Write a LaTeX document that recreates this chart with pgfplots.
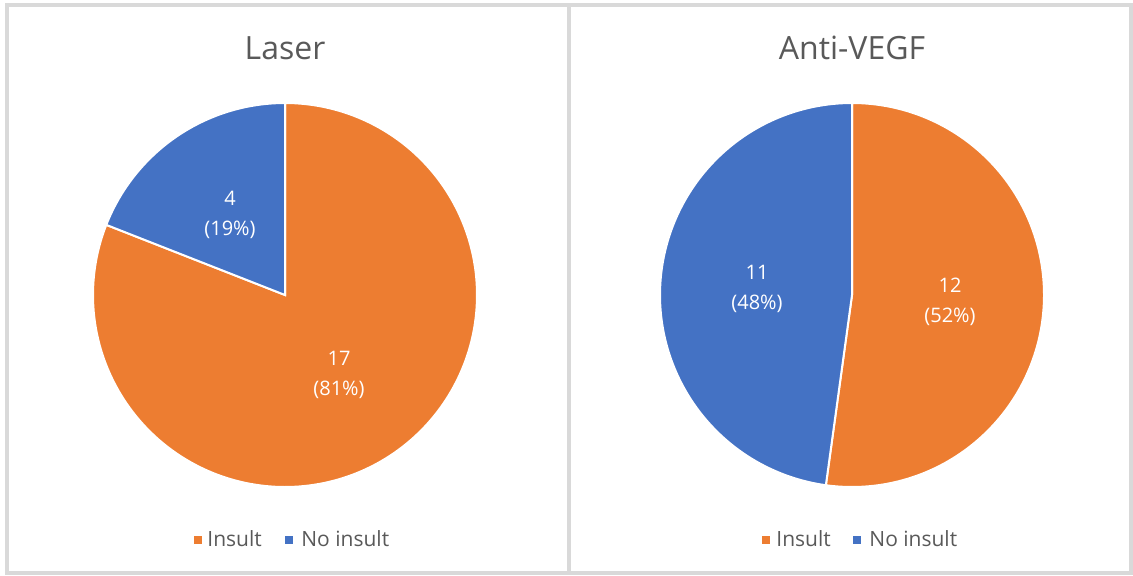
\documentclass[border=0pt]{standalone}
\usepackage{pgfplots}
\pgfplotsset{compat=1.18}
\usepackage{fontspec}
\setmainfont{Open Sans}
\definecolor{pieorange}{HTML}{ED7D31}
\definecolor{pieblue}{HTML}{4472C4}
\definecolor{txtgray}{HTML}{595959}
\definecolor{framegray}{HTML}{D9D9D9}
% data
\def\laserIns{17}
\def\laserNo{4}
\def\vegfIns{12}
\def\vegfNo{11}
\pgfmathsetmacro\aL{90-360*\laserIns/(\laserIns+\laserNo)}
\pgfmathsetmacro\aV{90-360*\vegfIns/(\vegfIns+\vegfNo)}
\pgfmathsetmacro\aLb{\aL+360}
\pgfmathsetmacro\aVb{\aV+360}
\begin{document}
\begin{tikzpicture}
\begin{axis}[hide axis, scale only axis, width=566.5pt, height=287.5pt,
  xmin=0, xmax=1133, ymin=-575, ymax=0, clip=false]
% frames
\draw[framegray, line width=2pt] (7,-5) rectangle (1131,-573);
\draw[framegray, line width=2pt] (568.7,-5) -- (568.7,-573);
% Laser pie
\addplot[fill=pieorange, draw=white, line width=1pt, domain=\aL:90, samples=200]
  ({285+192*cos(x)},{-295+192*sin(x)}) -- (285,-295) -- cycle;
\addplot[fill=pieblue, draw=white, line width=1pt, domain=90:\aLb, samples=80]
  ({285+192*cos(x)},{-295+192*sin(x)}) -- (285,-295) -- cycle;
% Anti-VEGF pie
\addplot[fill=pieorange, draw=white, line width=1pt, domain=\aV:90, samples=200]
  ({852+192*cos(x)},{-295+192*sin(x)}) -- (852,-295) -- cycle;
\addplot[fill=pieblue, draw=white, line width=1pt, domain=90:\aVb, samples=200]
  ({852+192*cos(x)},{-295+192*sin(x)}) -- (852,-295) -- cycle;
% titles
\node[txtgray, font=\fontsize{16}{19}\selectfont] at (285,-48) {Laser};
\node[txtgray, font=\fontsize{16}{19}\selectfont] at (852,-48) {Anti-VEGF};
% data labels
\node[white, align=center, font=\fontsize{10}{15}\selectfont] at (230,-215) {4\\(19\%)};
\node[white, align=center, font=\fontsize{10}{15}\selectfont] at (339,-375) {17\\(81\%)};
\node[white, align=center, font=\fontsize{10}{15}\selectfont] at (757,-289) {11\\(48\%)};
\node[white, align=center, font=\fontsize{10}{15}\selectfont] at (950,-302) {12\\(52\%)};
% legends
\fill[pieorange] (193.5,-535.5) rectangle (201.5,-543.5);
\node[txtgray, anchor=west, font=\fontsize{10.5}{12}\selectfont, inner sep=0pt] at (207,-539) {Insult};
\fill[pieblue] (285,-535.5) rectangle (293,-543.5);
\node[txtgray, anchor=west, font=\fontsize{10.5}{12}\selectfont, inner sep=0pt] at (301,-539) {No insult};
\fill[pieorange] (761.5,-535.5) rectangle (769.5,-543.5);
\node[txtgray, anchor=west, font=\fontsize{10.5}{12}\selectfont, inner sep=0pt] at (776,-539) {Insult};
\fill[pieblue] (853,-535.5) rectangle (861,-543.5);
\node[txtgray, anchor=west, font=\fontsize{10.5}{12}\selectfont, inner sep=0pt] at (869,-539) {No insult};
\end{axis}
\pgfresetboundingbox
\path[use as bounding box] (current axis.south west) rectangle (current axis.north east);
\end{tikzpicture}
\end{document}
